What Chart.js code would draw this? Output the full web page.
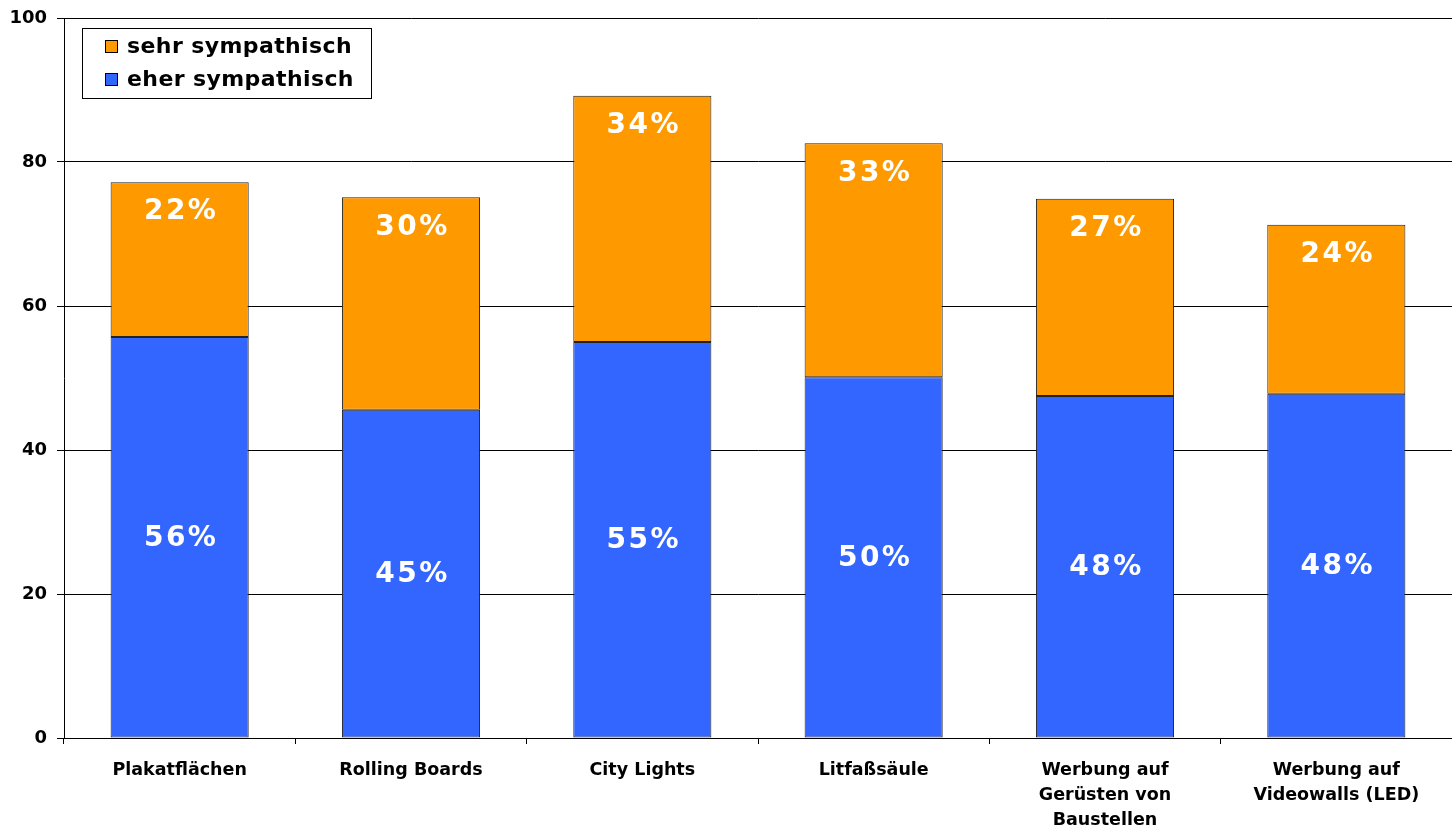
<!DOCTYPE html>
<html>
<head>
<meta charset="utf-8">
<script src="https://cdn.jsdelivr.net/npm/chart.js@4.4.1/dist/chart.umd.min.js"></script>
<style>
  html, body { margin: 0; padding: 0; background: #fff; }
  #wrap { width: 1452px; height: 827px; position: relative; }
</style>
</head>
<body>
<div id="wrap"><canvas id="c" width="1452" height="827"></canvas></div>
<script>
const categories = [
  'Plakatflächen',
  'Rolling Boards',
  'City Lights',
  'Litfaßsäule',
  ['Werbung auf', 'Gerüsten von', 'Baustellen'],
  ['Werbung auf', 'Videowalls (LED)']
];
const eherValues = [55.7, 45.6, 55.0, 50.1, 47.5, 47.8];
const sehrValues = [21.5, 29.5, 34.2, 32.5, 27.4, 23.5];
const eherLabels = ['56%', '45%', '55%', '50%', '48%', '48%'];
const sehrLabels = ['22%', '30%', '34%', '33%', '27%', '24%'];
const yTicks = [0, 20, 40, 60, 80, 100];

const FONT = "'DejaVu Sans', Verdana, sans-serif";

const valueLabelPlugin = {
  id: 'valueLabels',
  afterDatasetsDraw(chart) {
    const ctx = chart.ctx;
    ctx.save();
    ctx.fillStyle = '#ffffff';
    ctx.font = 'bold 28px ' + FONT;
    ctx.textAlign = 'center';
    ctx.textBaseline = 'middle';
    try { ctx.letterSpacing = '2.5px'; } catch (e) {}
    chart.data.datasets.forEach((ds, di) => {
      const meta = chart.getDatasetMeta(di);
      meta.data.forEach((bar, i) => {
        const txt = ds.valueLabels[i];
        let y;
        if (ds.labelPos === 'center') {
          y = (bar.y + bar.base) / 2 + 1;
        } else {
          y = bar.y + 30;
        }
        ctx.fillText(txt, bar.x + 1.5, y);
      });
    });
    ctx.restore();
  }
};

const legendBoxPlugin = {
  id: 'legendBox',
  afterDraw(chart) {
    const ctx = chart.ctx;
    const x0 = 82, y0 = 28, w = 289, h = 70;
    ctx.save();
    ctx.fillStyle = '#ffffff';
    ctx.fillRect(x0, y0, w, h);
    ctx.strokeStyle = '#000000';
    ctx.lineWidth = 1;
    ctx.strokeRect(x0 + 0.5, y0 + 0.5, w, h);
    const items = chart.data.datasets.slice().reverse();
    ctx.font = 'bold 22px ' + FONT;
    try { ctx.letterSpacing = '0.4px'; } catch (e) {}
    ctx.textBaseline = 'middle';
    ctx.textAlign = 'left';
    items.forEach((ds, k) => {
      const cy = y0 + 18 + k * 33;
      ctx.fillStyle = ds.backgroundColor;
      ctx.fillRect(x0 + 23, cy - 6, 12, 12);
      ctx.strokeStyle = '#000';
      ctx.strokeRect(x0 + 23.5, cy - 5.5, 12, 12);
      ctx.fillStyle = '#000';
      ctx.fillText(ds.label, x0 + 45, cy + 1);
    });
    ctx.restore();
  }
};

new Chart(document.getElementById('c'), {
  type: 'bar',
  data: {
    labels: categories,
    datasets: [
      {
        label: 'eher sympathisch',
        data: eherValues,
        valueLabels: eherLabels,
        labelPos: 'center',
        backgroundColor: '#3366FF',
        borderColor: '#222222',
        borderWidth: 1,
        borderSkipped: false,
        barPercentage: 0.597,
        categoryPercentage: 1.0
      },
      {
        label: 'sehr sympathisch',
        data: sehrValues,
        valueLabels: sehrLabels,
        labelPos: 'top',
        backgroundColor: '#FF9900',
        borderColor: '#222222',
        borderWidth: 1,
        borderSkipped: false,
        barPercentage: 0.597,
        categoryPercentage: 1.0
      }
    ]
  },
  options: {
    responsive: false,
    animation: false,
    devicePixelRatio: 1,
    layout: { padding: { top: 18, right: 0, left: 0, bottom: 0 } },
    plugins: {
      legend: { display: false },
      tooltip: { enabled: false }
    },
    scales: {
      x: {
        stacked: true,
        offset: true,
        grid: {
          offset: true,
          drawOnChartArea: false,
          drawTicks: true,
          tickLength: 6,
          color: '#000'
        },
        border: { display: true, color: '#000', width: 1 },
        ticks: {
          color: '#000',
          font: { family: FONT, size: 17.5, weight: 'bold', lineHeight: 1.42 },
          padding: 14,
          maxRotation: 0,
          autoSkip: false
        },
        afterFit(scale) { scale.height = 89; scale.paddingLeft = 0; scale.paddingRight = 0; }
      },
      y: {
        stacked: true,
        min: 0,
        max: 100,
        afterBuildTicks(scale) { scale.ticks = yTicks.map(v => ({ value: v })); },
        grid: {
          color: '#000',
          lineWidth: 1,
          drawTicks: true,
          tickLength: 7
        },
        border: { display: true, color: '#000', width: 1 },
        ticks: {
          color: '#000',
          font: { family: FONT, size: 18, weight: 'bold' },
          padding: 10
        },
        afterFit(scale) { scale.width = 64; scale.paddingTop = 0; scale.paddingBottom = 0; }
      }
    }
  },
  plugins: [valueLabelPlugin, legendBoxPlugin]
});
</script>
</body>
</html>
